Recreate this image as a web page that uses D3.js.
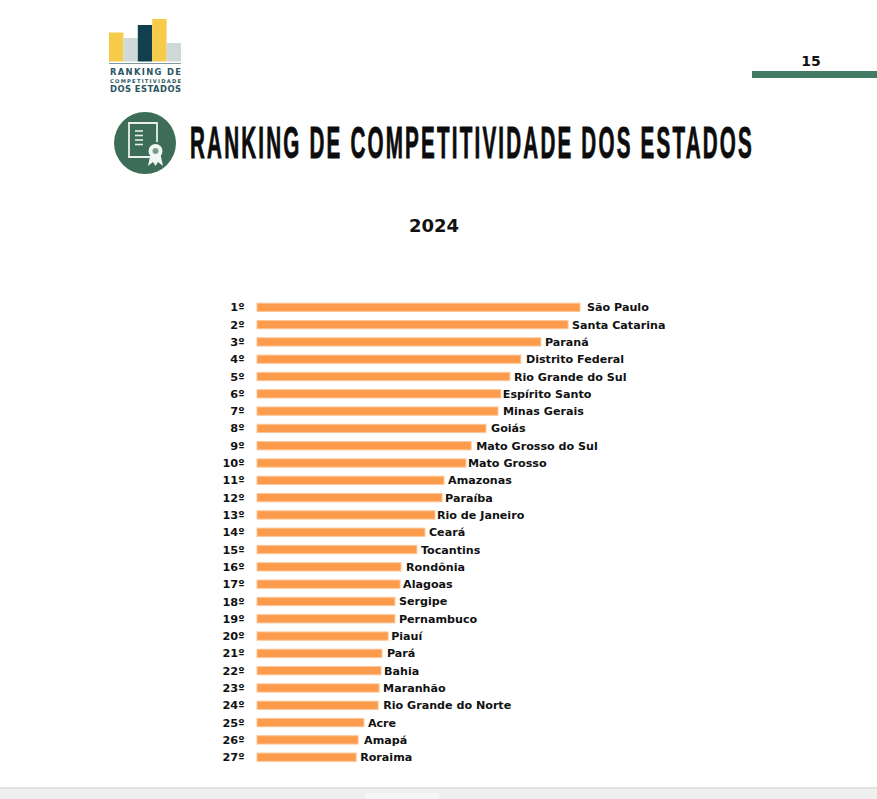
<!DOCTYPE html>
<html>
<head>
<meta charset="utf-8">
<script src="https://cdn.jsdelivr.net/npm/d3@7"></script>
<style>
  html, body { margin: 0; padding: 0; background: #fff; }
  svg { display: block; }
  text { font-family: "DejaVu Sans", sans-serif; font-weight: bold; fill: #111; }
</style>
</head>
<body>
<div id="container"></div>
<script>
var states = ["São Paulo", "Santa Catarina", "Paraná", "Distrito Federal", "Rio Grande do Sul",
    "Espírito Santo", "Minas Gerais", "Goiás", "Mato Grosso do Sul", "Mato Grosso", "Amazonas",
    "Paraíba", "Rio de Janeiro", "Ceará", "Tocantins", "Rondônia", "Alagoas", "Sergipe",
    "Pernambuco", "Piauí", "Pará", "Bahia", "Maranhão", "Rio Grande do Norte", "Acre", "Amapá", "Roraima"];
// no axis in the picture, so values are relative to the first bar
var scores = [100, 96.3, 87.9, 81.7, 78.3, 75.5, 74.6, 70.9, 66.3, 64.7, 57.9, 57.3, 55.1, 52,
    49.5, 44.6, 44.3, 42.7, 42.7, 40.6, 38.7, 38.4, 37.8, 37.5, 33.1, 31.3, 30.7];
var ranks = states.map(function (d, i) { return (i + 1) + "º"; });
// the labels do not sit at one fixed distance from the bar
var labelGaps = [7, 4, 4, 5, 4, 2, 5, 5, 5, 2, 4, 3, 2, 4, 4, 5, 3, 4, 4, 3, 5, 3, 4, 5, 4, 6, 4];

var logoNames = ["a", "b", "c", "d", "e"];
var logoHeights = [58, 47, 73, 85, 37];
var logoColors = ["#f6cb4a", "#cfdad8", "#123f4d", "#f6cb4a", "#cfdad8"];

var svg = d3.select("#container")
    .append("svg")
    .attr("width", 877)
    .attr("height", 799);

// logo
var logoX = d3.scaleBand().domain(logoNames).range([109, 181]).paddingInner(0);
var logoY = d3.scaleLinear().domain([0, 85]).range([61.5, 19]);
svg.selectAll(".logo-bar")
    .data(logoNames)
    .enter().append("rect")
    .attr("class", "logo-bar")
    .attr("x", function (d) { return logoX(d); })
    .attr("y", function (d, i) { return logoY(logoHeights[i]); })
    .attr("width", logoX.bandwidth())
    .attr("height", function (d, i) { return logoY(0) - logoY(logoHeights[i]); })
    .attr("fill", function (d, i) { return logoColors[i]; });
svg.append("rect").attr("x", 109).attr("y", 63).attr("width", 72).attr("height", 1).attr("fill", "#7f9aa0");

function logoText(y, size, label) {
    svg.append("text").attr("x", 145.5).attr("y", y).attr("text-anchor", "middle")
        .attr("textLength", 71).attr("lengthAdjust", "spacing")
        .style("font-size", size + "px").style("fill", "#2b5560").text(label);
}
logoText(74.5, 8.4, "RANKING DE");
logoText(82.8, 5.2, "COMPETITIVIDADE");
logoText(91.5, 8.4, "DOS ESTADOS");

// page number
svg.append("text").attr("x", 811).attr("y", 66).attr("text-anchor", "middle")
    .style("font-size", "14px").text("15");
svg.append("rect").attr("x", 752).attr("y", 71).attr("width", 125).attr("height", 7).attr("fill", "#437a64");

// certificate icon
var icon = svg.append("g");
icon.append("circle").attr("cx", 145).attr("cy", 143).attr("r", 31).attr("fill", "#3d6c59");
icon.append("path")
    .attr("d", "M150,157 L129,157 L129,123 L157,123 L157,142")
    .attr("fill", "none").attr("stroke", "#e8f0ec").attr("stroke-width", 1.8);
icon.selectAll(".doc-line")
    .data([131, 135.5, 140, 144.5])
    .enter().append("line")
    .attr("x1", 135).attr("x2", 143)
    .attr("y1", function (d) { return d; }).attr("y2", function (d) { return d; })
    .attr("stroke", "#e8f0ec").attr("stroke-width", 1.6);
icon.append("path").attr("d", "M151,152 L148,166 L153,162 L155.5,166 L158,162 L163,166 L160,152 Z").attr("fill", "#f2f6f4");
icon.append("circle").attr("cx", 155.5).attr("cy", 151).attr("r", 7).attr("fill", "#f2f6f4");
icon.append("circle").attr("cx", 155.5).attr("cy", 151).attr("r", 3).attr("fill", "#7c9c8e");

// headline: squeeze the glyphs sideways, then open up the spacing, to read like the condensed display face
var titleWidth = 562;
var titleGap = 2.2;
var title = svg.append("text")
    .style("font-family", "'Liberation Sans', sans-serif")
    .style("font-size", "45px")
    .style("fill", "#0c0c0c")
    .style("stroke", "#0c0c0c")
    .style("stroke-width", "0.7px")
    .style("vector-effect", "non-scaling-stroke")
    .text("RANKING DE COMPETITIVIDADE DOS ESTADOS");
var titleGaps = title.text().length - 1;
var titleScale = (titleWidth - titleGaps * titleGap) / title.node().getComputedTextLength();
title.attr("transform", "translate(190,158) scale(" + titleScale + ",1)")
    .style("letter-spacing", (titleGap / titleScale) + "px");

svg.append("text").attr("x", 434).attr("y", 232).attr("text-anchor", "middle")
    .style("font-size", "18px").text("2024");

// bars
var x = d3.scaleLinear().domain([0, 100]).range([257, 580]);
var y = d3.scaleBand().domain(states).range([299, 765.5]).paddingInner(0.52).paddingOuter(0.24);

svg.selectAll(".bar")
    .data(states)
    .enter().append("rect")
    .attr("class", "bar")
    .attr("x", x(0))
    .attr("y", function (d) { return y(d); })
    .attr("width", function (d, i) { return x(scores[i]) - x(0); })
    .attr("height", y.bandwidth())
    .attr("fill", "#fb9b4b")
    .attr("stroke", "#fdc79a")
    .attr("stroke-width", 1);

svg.selectAll(".state")
    .data(states)
    .enter().append("text")
    .attr("class", "state")
    .attr("x", function (d, i) { return x(scores[i]) + labelGaps[i]; })
    .attr("y", function (d) { return y(d) + y.bandwidth() / 2; })
    .attr("dy", "0.36em")
    .style("font-size", "11.13px")
    .text(function (d) { return d; });

svg.selectAll(".rank")
    .data(states)
    .enter().append("text")
    .attr("class", "rank")
    .attr("x", 244.5)
    .attr("y", function (d) { return y(d) + y.bandwidth() / 2; })
    .attr("dy", "0.36em")
    .attr("text-anchor", "end")
    .style("font-size", "11.3px")
    .text(function (d, i) { return ranks[i]; });

// grey strip along the bottom of the page
svg.append("rect").attr("x", 0).attr("y", 787).attr("width", 877).attr("height", 12).attr("fill", "#efefef");
svg.append("rect").attr("x", 0).attr("y", 787).attr("width", 877).attr("height", 2).attr("fill", "#e2e2e2");
svg.append("rect").attr("x", 365).attr("y", 793).attr("width", 74).attr("height", 6).attr("fill", "#f6f6f6");
</script>
</body>
</html>
